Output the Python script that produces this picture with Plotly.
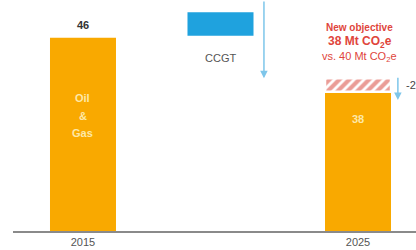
import plotly.graph_objects as go

# ---- data ----
years = ["2015", "2025"]
year_pos = [0, 1]
emissions = [46, 38]            # Mt CO2e, main bars
old_objective = 40              # previous 2025 objective
ccgt_pos = 0.5
ccgt_top = 49.8
ccgt_bottom = 46.3

bar_w = 0.24
orange = "#f9a900"
red = "#e0453c"
blue = "#1fa2de"
arrow_blue = "#7ec6ea"

fig = go.Figure()

# main bars
fig.add_trace(go.Bar(
    x=year_pos, y=emissions, width=bar_w,
    marker=dict(color=orange, line=dict(width=0)),
    showlegend=False, hoverinfo="skip"))

# hatched gap between new and old objective
fig.add_trace(go.Bar(
    x=[year_pos[1]], y=[old_objective - emissions[1]], base=[emissions[1]], width=bar_w,
    marker=dict(color="white", line=dict(color="white", width=2.5),
                pattern=dict(shape="/", fgcolor="#d63a2e", bgcolor="white", size=7, solidity=0.6)),
    showlegend=False, hoverinfo="skip"))

# CCGT block
fig.add_trace(go.Bar(
    x=[ccgt_pos], y=[ccgt_top - ccgt_bottom], base=[ccgt_bottom], width=bar_w,
    marker=dict(color=blue, line=dict(width=0)),
    showlegend=False, hoverinfo="skip"))

ann = []
F = "Liberation Sans, Arial, sans-serif"
ann.append(dict(x=year_pos[0], y=emissions[0], text="<b>46</b>", showarrow=False,
                yanchor="bottom", yshift=5, font=dict(size=11, color="#333", family=F)))
for word, yv in [("Oil", 37.1), ("&", 34.4), ("Gas", 31.9)]:
    ann.append(dict(x=year_pos[0], y=yv, text="<b>%s</b>" % word, showarrow=False,
                    font=dict(size=11, color="#fde8a8", family=F)))
ann.append(dict(x=year_pos[1], y=34.0, text="<b>38</b>", showarrow=False,
                font=dict(size=11, color="#fde8a8", family=F)))
ann.append(dict(x=ccgt_pos, y=43.0, text="CCGT", showarrow=False,
                font=dict(size=11, color="#555", family=F)))
ann.append(dict(x=1.007, y=47.6, text="<b>New objective</b>", showarrow=False,
                font=dict(size=10, color=red, family=F)))
ann.append(dict(x=1.007, y=45.4, text="<b>38 Mt CO<sub>2</sub>e</b>", showarrow=False,
                font=dict(size=12, color=red, family=F)))
ann.append(dict(x=1.007, y=43.2, text="vs. 40 Mt CO<sub>2</sub>e", showarrow=False,
                font=dict(size=11, color=red, family=F)))
ann.append(dict(x=1.169, y=39.0, text="-2", showarrow=False, xanchor="left",
                font=dict(size=11, color="#444", family=F)))
ann.append(dict(x=0.658, y=40.0, ax=0.658, ay=51.6, xref="x", yref="y", axref="x", ayref="y",
                showarrow=True, arrowhead=2, arrowsize=1, arrowwidth=1.5, arrowcolor=arrow_blue, text=""))
ann.append(dict(x=1.145, y=36.8, ax=1.145, ay=40.3, xref="x", yref="y", axref="x", ayref="y",
                showarrow=True, arrowhead=2, arrowsize=1, arrowwidth=1.5, arrowcolor=arrow_blue, text=""))

fig.update_layout(
    width=416, height=250,
    margin=dict(l=13, r=0, t=0, b=19),
    paper_bgcolor="white", plot_bgcolor="white",
    barmode="overlay",
    annotations=ann,
    xaxis=dict(range=[-0.2545, 1.2109], tickvals=year_pos, ticktext=years,
               showgrid=False, zeroline=False, showline=True, linecolor="#8a8a8a", linewidth=1.5,
               ticks="", tickfont=dict(size=11, color="#555", family=F), fixedrange=True),
    yaxis=dict(range=[17.4, 51.6], visible=False, showgrid=False, fixedrange=True),
)

fig.write_html("out.html", config={"displayModeBar": False},
               post_script="document.body.style.margin='0';document.body.style.overflow='hidden';")
